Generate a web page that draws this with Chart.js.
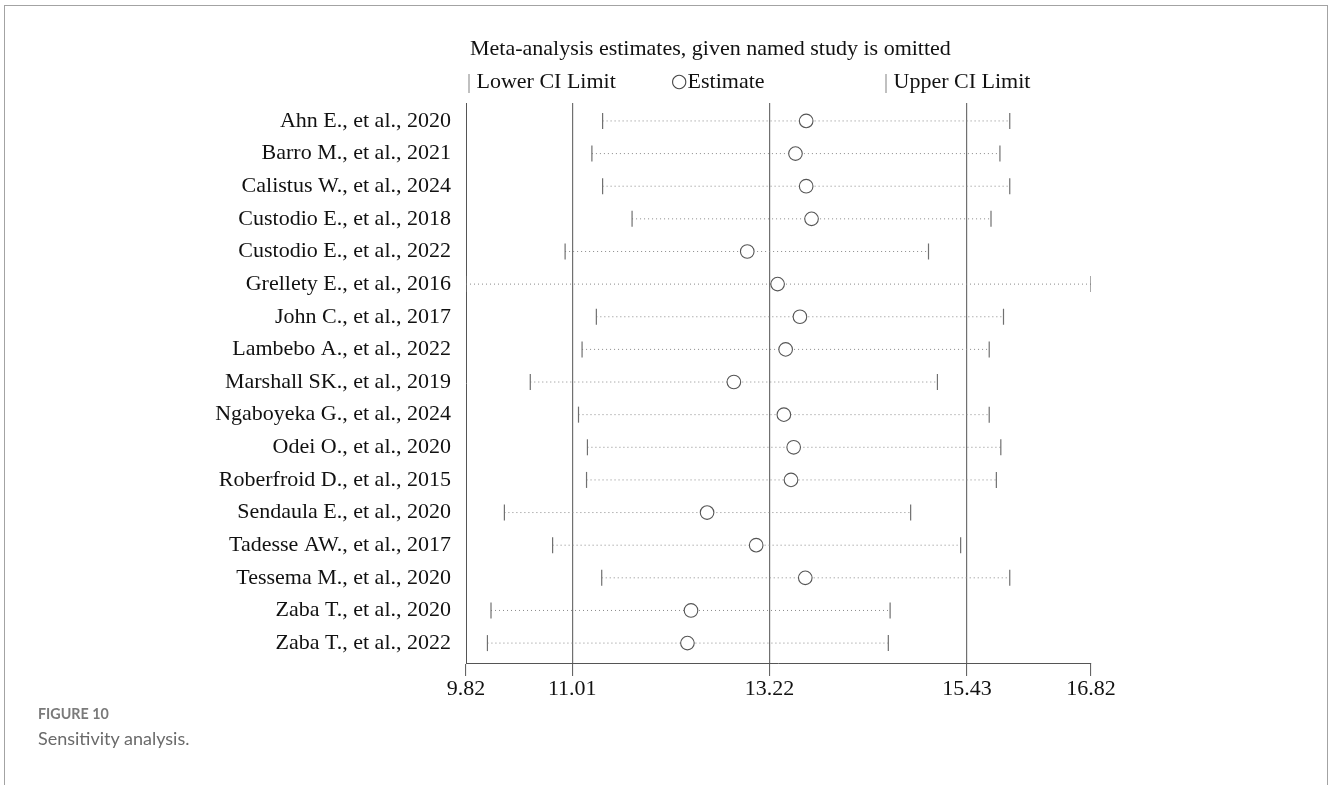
<!DOCTYPE html>
<html>
<head>
<meta charset="utf-8">
<script src="https://cdn.jsdelivr.net/npm/chart.js@4.4.1/dist/chart.umd.min.js"></script>
<style>
  html, body { margin: 0; padding: 0; background: #fff; }
  body { width: 1328px; height: 785px; position: relative; overflow: hidden; }
  #frame { position: absolute; left: 4px; top: 5px; width: 1322px; height: 820px;
           border: 1px solid #a3a3a3; border-bottom: none; }
  #wrap { position: absolute; left: 0; top: 0; width: 1328px; height: 785px; }
  .serif { font-family: "Liberation Serif", "Times New Roman", serif; font-size: 22px; color: #111; position: absolute; white-space: nowrap; line-height: 22px; }
  .bar { color: #888; font-size: 20px; }
  .circ { color: #444; font-size: 19px; font-family: "DejaVu Sans", sans-serif; position: relative; top: -1px; }
  #cap1 { position: absolute; left: 38px; top: 705px; font-family: Lato, "Open Sans", sans-serif; font-weight: 700; font-size: 14.3px; color: #7a7a7a; }
  #cap2 { position: absolute; left: 38px; top: 727px; font-family: Lato, "Open Sans", sans-serif; font-size: 18px; color: #6a6a6a; }
</style>
</head>
<body>
<div id="frame"></div>
<div id="wrap"><canvas id="c" width="1328" height="785"></canvas></div>
<div class="serif" style="left:470px; top:37px;">Meta-analysis estimates, given named study is omitted</div>
<div class="serif" style="left:467px; top:70px;"><span class="bar">|</span> Lower CI Limit</div>
<div class="serif" style="left:671px; top:70px;"><span class="circ">○</span>Estimate</div>
<div class="serif" style="left:884px; top:70px;"><span class="bar">|</span> Upper CI Limit</div>
<div id="cap1">FIGURE 10</div>
<div id="cap2">Sensitivity analysis.</div>
<script>
const studies = ["Ahn E., et al., 2020","Barro M., et al., 2021","Calistus W., et al., 2024","Custodio E., et al., 2018","Custodio E., et al., 2022","Grellety E., et al., 2016","John C., et al., 2017","Lambebo A., et al., 2022","Marshall SK., et al., 2019","Ngaboyeka G., et al., 2024","Odei O., et al., 2020","Roberfroid D., et al., 2015","Sendaula E., et al., 2020","Tadesse AW., et al., 2017","Tessema M., et al., 2020","Zaba T., et al., 2020","Zaba T., et al., 2022"];
const estimate = [13.63,13.51,13.63,13.69,12.97,13.31,13.56,13.40,12.82,13.38,13.49,13.46,12.52,13.07,13.62,12.34,12.30];
const lowerCI  = [11.35,11.23,11.35,11.68,10.93,9.82,11.28,11.12,10.54,11.08,11.18,11.17,10.25,10.79,11.34,10.10,10.06];
const upperCI  = [15.91,15.80,15.91,15.70,15.00,16.82,15.84,15.68,15.10,15.68,15.81,15.76,14.80,15.36,15.91,14.57,14.55];
const xTicks = [9.82, 11.01, 13.22, 15.43, 16.82];
const xTickLabels = ["9.82", "11.01", "13.22", "15.43", "16.82"];

const serif = { family: "'Liberation Serif', 'Times New Roman', serif", size: 22 };

const segs = [];
studies.forEach((s, i) => {
  segs.push({x: lowerCI[i], y: i});
  segs.push({x: upperCI[i], y: i});
  segs.push({x: null, y: null});
});

new Chart(document.getElementById('c'), {
  type: 'scatter',
  data: {
    datasets: [
      { label: 'Estimate', data: estimate.map((v, i) => ({x: v, y: i})),
        pointStyle: 'circle', pointRadius: 6.8, pointBorderWidth: 1.1,
        pointBorderColor: '#555', pointBackgroundColor: '#fff', showLine: false },
      { label: 'Lower CI Limit', data: lowerCI.map((v, i) => ({x: v, y: i})),
        pointStyle: 'line', pointRotation: 90, pointRadius: 8, pointBorderWidth: 1.2,
        pointBorderColor: '#707070', showLine: false },
      { label: 'Upper CI Limit', data: upperCI.map((v, i) => ({x: v, y: i})),
        pointStyle: 'line', pointRotation: 90, pointRadius: 8, pointBorderWidth: 1.2,
        pointBorderColor: '#707070', showLine: false },
      { label: 'CI', data: segs, showLine: true, spanGaps: false, pointRadius: 0,
        borderColor: '#8a8a8a', borderWidth: 1, borderDash: [1, 3] }
    ]
  },
  options: {
    responsive: false,
    animation: false,
    events: [],
    layout: { padding: { left: 0, top: 103, right: 237, bottom: 82 } },
    plugins: { legend: { display: false }, tooltip: { enabled: false }, title: { display: false } },
    scales: {
      x: {
        type: 'linear', position: 'bottom', min: 9.82, max: 16.82,
        afterBuildTicks: (scale) => { scale.ticks = xTicks.map(v => ({ value: v })); },
        afterFit: (scale) => { scale.height = 40; },
        ticks: { autoSkip: false, maxRotation: 0, padding: 0, color: '#111', font: serif,
                 callback: (v, i) => xTickLabels[i] },
        grid: { drawOnChartArea: true, tickLength: 13, lineWidth: 1.2,
                color: (ctx) => (ctx.index === 0 || ctx.index === xTicks.length - 1) ? 'rgba(0,0,0,0)' : '#707070',
                tickColor: '#555', tickWidth: 1 },
        border: { display: true, color: '#555', width: 1 }
      },
      y: {
        type: 'linear', position: 'left', reverse: true, min: -0.55, max: 16.61,
        afterBuildTicks: (scale) => { scale.ticks = studies.map((s, i) => ({ value: i })); },
        afterFit: (scale) => { scale.width = 466; },
        ticks: { autoSkip: false, padding: 15, color: '#111', font: serif,
                 callback: (v) => studies[v] },
        grid: { display: false, drawTicks: false },
        border: { display: true, color: '#555', width: 1 }
      }
    }
  }
});
</script>
</body>
</html>
